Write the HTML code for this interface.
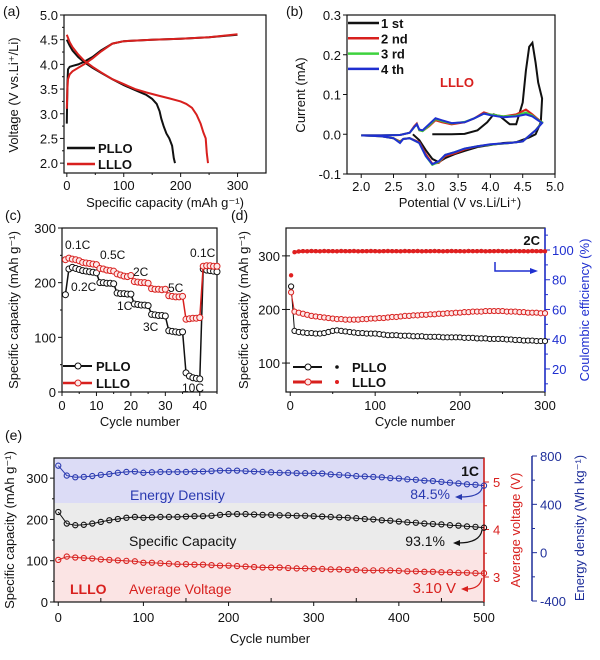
<!DOCTYPE html>
<html><head><meta charset="utf-8">
<style>
html,body{margin:0;padding:0;background:#fff;}
svg{display:block;font-family:"Liberation Sans",Arial,sans-serif;}
</style></head>
<body>
<svg id="fig" width="600" height="660" viewBox="0 0 600 660" xmlns="http://www.w3.org/2000/svg"></svg>
<script>
// ---------- DATA ----------
const aPlloChgX=[0,1,2,5,10,20,30,45,60,80,100,150,200,250,300];
const aPlloChgY=[2.8,3.6,3.9,3.95,3.97,4.0,4.05,4.15,4.28,4.42,4.47,4.5,4.52,4.55,4.6];
const aPlloDisX=[0,5,10,20,30,45,60,80,100,120,140,150,158,163,166,170,175,180,185,188,190];
const aPlloDisY=[4.5,4.38,4.28,4.15,4.05,3.93,3.83,3.7,3.58,3.48,3.38,3.3,3.2,3.05,2.9,2.75,2.6,2.5,2.35,2.1,2.0];
const aLlloChgX=[0,1,2,5,10,20,30,45,60,80,100,150,200,250,300];
const aLlloChgY=[3.1,3.5,3.7,3.8,3.86,3.93,4.0,4.12,4.26,4.42,4.47,4.5,4.52,4.55,4.61];
const aLlloDisX=[0,5,10,20,30,45,60,80,100,120,140,160,180,200,210,220,228,235,240,244,246,248];
const aLlloDisY=[4.6,4.45,4.35,4.2,4.08,3.95,3.84,3.7,3.6,3.5,3.43,3.37,3.31,3.25,3.2,3.12,2.98,2.8,2.62,2.5,2.2,2.0];
const bCyc1V=[3.1,3.4,3.6,3.8,3.95,4.05,4.15,4.3,4.4,4.5,4.55,4.6,4.65,4.7,4.74,4.8,4.78,4.7,4.6,4.5,4.4,4.2,4.0,3.8,3.6,3.45,3.3,3.2,3.1,3.0,2.9,2.8];
const bCyc1I=[0.0,0.0,0.001,0.01,0.03,0.05,0.045,0.025,0.025,0.08,0.16,0.22,0.23,0.18,0.13,0.09,0.03,0.0,-0.008,-0.014,-0.02,-0.022,-0.027,-0.032,-0.042,-0.05,-0.06,-0.07,-0.062,-0.04,-0.015,0.0];
const bCyc2V=[2.0,2.3,2.6,2.75,2.82,2.86,2.9,2.95,3.05,3.15,3.25,3.4,3.6,3.75,3.9,4.0,4.2,4.4,4.55,4.65,4.72,4.8,4.7,4.5,4.3,4.0,3.8,3.6,3.45,3.3,3.2,3.1,3.0,2.9,2.75,2.65,2.6,2.5,2.3,2.0];
const bCyc2I=[-0.003,-0.003,-0.002,0.004,0.02,0.027,0.01,0.008,0.02,0.035,0.03,0.025,0.03,0.04,0.055,0.05,0.045,0.05,0.062,0.05,0.04,0.03,0.01,-0.018,-0.022,-0.026,-0.03,-0.038,-0.048,-0.055,-0.072,-0.074,-0.05,-0.02,-0.01,-0.012,-0.018,-0.01,-0.005,-0.003];
const bCyc3I=[-0.003,-0.003,-0.002,0.004,0.018,0.025,0.01,0.008,0.022,0.038,0.033,0.027,0.031,0.04,0.052,0.05,0.045,0.047,0.055,0.047,0.038,0.03,0.01,-0.018,-0.022,-0.026,-0.03,-0.036,-0.045,-0.052,-0.07,-0.077,-0.055,-0.022,-0.01,-0.012,-0.02,-0.01,-0.005,-0.003];
const bCyc4I=[-0.003,-0.003,-0.002,0.004,0.018,0.025,0.012,0.01,0.025,0.04,0.035,0.028,0.03,0.04,0.052,0.048,0.043,0.045,0.05,0.045,0.037,0.028,0.01,-0.018,-0.022,-0.025,-0.03,-0.036,-0.045,-0.052,-0.068,-0.075,-0.055,-0.022,-0.01,-0.012,-0.022,-0.01,-0.005,-0.003];
const cCycles=[1,2,3,4,5,6,7,8,9,10,11,12,13,14,15,16,17,18,19,20,21,22,23,24,25,26,27,28,29,30,31,32,33,34,35,36,37,38,39,40,41,42,43,44,45];
const cPllo=[178,225,228,226,224,222,221,220,219,218,200,200,199,199,198,181,180,180,179,179,161,160,159,159,158,142,141,140,140,139,112,111,110,109,110,35,29,26,25,24,225,223,222,221,220];
const cLllo=[242,245,243,242,240,237,236,235,234,233,226,225,223,222,221,216,214,212,211,213,202,201,200,200,199,189,188,188,187,188,176,175,174,174,175,133,134,135,135,136,230,231,231,230,230];
const dCycles=[1,5,10,15,20,25,30,35,40,45,50,55,60,65,70,75,80,85,90,95,100,105,110,115,120,125,130,135,140,145,150,155,160,165,170,175,180,185,190,195,200,205,210,215,220,225,230,235,240,245,250,255,260,265,270,275,280,285,290,295,300];
const dPlloCap=[243,160,158,157,156,156,155,155,156,158,160,161,160,159,158,157,156,156,155,155,155,154,153,152,152,152,151,151,151,150,150,150,149,149,149,149,148,148,148,148,148,147,147,147,146,146,146,145,145,145,145,144,144,143,143,142,142,142,141,141,141];
const dLlloCap=[232,196,194,192,190,188,187,186,185,184,183,182,182,181,181,181,181,182,182,183,183,184,184,185,186,186,187,188,188,189,189,190,190,191,191,192,192,193,193,194,194,195,195,196,196,196,197,197,197,197,197,196,196,196,195,195,194,194,194,193,193];
const dPlloCE=[74,98.8,99.3,99.5,99.4,99.6,99.5,99.4,99.6,99.5,99.5,99.4,99.6,99.5,99.5,99.6,99.4,99.5,99.5,99.6,99.5,99.4,99.5,99.6,99.5,99.5,99.4,99.6,99.5,99.5,99.6,99.4,99.5,99.5,99.6,99.5,99.4,99.5,99.6,99.5,99.5,99.4,99.6,99.5,99.5,99.6,99.4,99.5,99.5,99.6,99.5,99.4,99.5,99.6,99.5,99.5,99.4,99.6,99.5,99.5,99.4];
const dLlloCE=[83,98.5,99.0,99.2,99.1,99.3,99.2,99.1,99.3,99.2,99.2,99.1,99.3,99.2,99.2,99.3,99.1,99.2,99.2,99.3,99.2,99.1,99.2,99.3,99.2,99.2,99.1,99.3,99.2,99.2,99.3,99.1,99.2,99.2,99.3,99.2,99.1,99.2,99.3,99.2,99.2,99.1,99.3,99.2,99.2,99.3,99.1,99.2,99.2,99.3,99.2,99.1,99.2,99.3,99.2,99.2,99.1,99.3,99.2,99.2,99.1];
const eCycles=[0,10,20,30,40,50,60,70,80,90,100,110,120,130,140,150,160,170,180,190,200,210,220,230,240,250,260,270,280,290,300,310,320,330,340,350,360,370,380,390,400,410,420,430,440,450,460,470,480,490,500];
const eEnergy=[720,638,624,627,634,644,651,661,668,672,661,665,668,668,668,668,672,672,675,679,679,679,675,672,668,665,661,661,658,658,658,655,648,644,641,634,631,627,624,617,614,607,603,596,593,586,579,573,566,562,555];
const eCapacity=[218,190,186,187,190,194,198,201,204,206,204,205,206,206,206,207,208,208,209,211,213,213,213,212,211,211,210,210,209,209,208,207,206,205,204,203,201,200,198,197,195,193,192,190,189,188,186,185,183,182,180];
const eVoltage=[3.36,3.43,3.41,3.40,3.39,3.37,3.36,3.35,3.34,3.33,3.30,3.30,3.29,3.28,3.27,3.27,3.26,3.26,3.25,3.24,3.24,3.23,3.22,3.21,3.20,3.20,3.20,3.19,3.18,3.18,3.17,3.17,3.16,3.16,3.15,3.15,3.14,3.14,3.14,3.14,3.13,3.12,3.12,3.11,3.11,3.10,3.10,3.09,3.09,3.08,3.08];

// ---------- HELPERS ----------
const NS='http://www.w3.org/2000/svg';
const svg=document.getElementById('fig');
function mk(tag,attrs,name,parent){
  const el=document.createElementNS(NS,tag);
  for(const k in attrs) el.setAttribute(k,attrs[k]);
  
  
  (parent||svg).appendChild(el);
  return el;
}
function txt(x,y,s,name,opt){
  opt=opt||{};
  const t=mk('text',{x:x,y:y,'font-size':opt.size||13,fill:opt.fill||'#111','text-anchor':opt.anchor||'middle','font-weight':opt.bold?'bold':'normal'},name);
  if(opt.rot) t.setAttribute('transform','rotate('+opt.rot+' '+x+' '+y+')');
  t.textContent=s;
  return t;
}
function lin(d0,d1,r0,r1){return v=>r0+(v-d0)/(d1-d0)*(r1-r0);}
function line(x1,y1,x2,y2,name,stroke,w){return mk('line',{x1:x1,y1:y1,x2:x2,y2:y2,stroke:stroke||'#111','stroke-width':w||1},name);}
function pathOf(xs,ys,X,Y){return xs.map((v,i)=>(i?'L':'M')+X(v).toFixed(1)+' '+Y(ys[i]).toFixed(1)).join(' ');}
function box(x0,y0,x1,y1,name){mk('rect',{x:x0,y:y0,width:x1-x0,height:y1-y0,fill:'none',stroke:'#111','stroke-width':1.2},name);}

// ---------- PANEL A ----------
(function(){
  const X=lin(-5,350,64,266), Y=lin(1.8,5.0,173,15);
  box(64,15,266,173,'panel-a-frame');
  [0,100,200,300].forEach(v=>{line(X(v),173,X(v),177,'a-x-tick');txt(X(v),190,String(v),'a-x-tick-label');});
  [50,150,250].forEach(v=>{line(X(v),173,X(v),175,'a-x-minor-tick');});
  [2,2.5,3,3.5,4,4.5,5].forEach(v=>{line(60,Y(v),64,Y(v),'a-y-tick');txt(58,Y(v)+5,v.toFixed(1),'a-y-tick-label',{anchor:'end'});});
  [2.25,2.75,3.25,3.75,4.25,4.75].forEach(v=>{line(62,Y(v),64,Y(v),'a-y-minor-tick');});
  mk('path',{d:pathOf(aPlloChgX,aPlloChgY,X,Y),fill:'none',stroke:'#111','stroke-width':2},'pllo-charge-curve');
  mk('path',{d:pathOf(aPlloDisX,aPlloDisY,X,Y),fill:'none',stroke:'#111','stroke-width':2},'pllo-discharge-curve');
  mk('path',{d:pathOf(aLlloChgX,aLlloChgY,X,Y),fill:'none',stroke:'#d8201e','stroke-width':2},'lllo-charge-curve');
  mk('path',{d:pathOf(aLlloDisX,aLlloDisY,X,Y),fill:'none',stroke:'#d8201e','stroke-width':2},'lllo-discharge-curve');
  line(67,148,95,148,'a-legend-pllo-line','#111',2.5);
  txt(98,153,'PLLO','a-legend-pllo-label',{anchor:'start',bold:true});
  line(67,164,95,164,'a-legend-lllo-line','#d8201e',2.5);
  txt(98,169,'LLLO','a-legend-lllo-label',{anchor:'start',bold:true});
  txt(18,95,'Voltage (V vs.Li\u207A/Li)','a-y-axis-title',{rot:-90,size:13});
  txt(165,207,'Specific capacity (mAh g\u207B\u00B9)','a-x-axis-title',{size:13});
  txt(3,16,'(a)','panel-a-label',{anchor:'start',size:14});
})();

// ---------- PANEL B ----------
(function(){
  const X=lin(1.78,5.0,347,555), Y=lin(-0.1,0.3,174,15);
  box(347,15,555,174,'panel-b-frame');
  [2,2.5,3,3.5,4,4.5,5].forEach(v=>{line(X(v),174,X(v),178,'b-x-tick');txt(X(v),191,v.toFixed(1),'b-x-tick-label');});
  [-0.1,0,0.1,0.2,0.3].forEach(v=>{line(343,Y(v),347,Y(v),'b-y-tick');txt(341,Y(v)+5,v.toFixed(1),'b-y-tick-label',{anchor:'end'});});
  mk('path',{d:pathOf(bCyc1V,bCyc1I,X,Y),fill:'none',stroke:'#111','stroke-width':2},'cv-cycle-1');
  mk('path',{d:pathOf(bCyc2V,bCyc2I,X,Y),fill:'none',stroke:'#d8201e','stroke-width':2},'cv-cycle-2');
  mk('path',{d:pathOf(bCyc2V,bCyc3I,X,Y),fill:'none',stroke:'#3ed23e','stroke-width':2},'cv-cycle-3');
  mk('path',{d:pathOf(bCyc2V,bCyc4I,X,Y),fill:'none',stroke:'#1f2fd0','stroke-width':2},'cv-cycle-4');
  const leg=[['1 st','#111'],['2 nd','#d8201e'],['3 rd','#3ed23e'],['4 th','#1f2fd0']];
  leg.forEach((l,i)=>{const y=23+i*15.3;line(348,y,379,y,'b-legend-line',l[1],2.5);txt(381,y+5,l[0],'b-legend-label',{anchor:'start',bold:true});});
  txt(440,87,'LLLO','b-lllo-annotation',{anchor:'start',bold:true,fill:'#d8201e'});
  txt(305,95,'Current (mA)','b-y-axis-title',{rot:-90,size:13});
  txt(460,207,'Potential (V vs.Li/Li\u207A)','b-x-axis-title',{size:13});
  txt(286,16,'(b)','panel-b-label',{anchor:'start',size:14});
})();

// ---------- PANEL C ----------
(function(){
  const X=lin(0,45,62,217), Y=lin(0,300,392,228);
  box(62,228,217,392,'panel-c-frame');
  [0,10,20,30,40].forEach(v=>{line(X(v),392,X(v),396,'c-x-tick');txt(X(v),410,String(v),'c-x-tick-label');});
  [5,15,25,35,45].forEach(v=>{line(X(v),392,X(v),394,'c-x-minor-tick');});
  [0,100,200,300].forEach(v=>{line(58,Y(v),62,Y(v),'c-y-tick');txt(56,Y(v)+5,String(v),'c-y-tick-label',{anchor:'end'});});
  [50,150,250].forEach(v=>{line(60,Y(v),62,Y(v),'c-y-minor-tick');});
  mk('path',{d:pathOf(cCycles,cPllo,X,Y),fill:'none',stroke:'#111','stroke-width':1.5},'c-pllo-line');
  cCycles.forEach((c,i)=>{mk('circle',{cx:X(c),cy:Y(cPllo[i]),r:3,fill:'#fff',stroke:'#111','stroke-width':1},'c-pllo-point');});
  mk('path',{d:pathOf(cCycles,cLllo,X,Y),fill:'none',stroke:'#d8201e','stroke-width':1.5},'c-lllo-line');
  cCycles.forEach((c,i)=>{mk('circle',{cx:X(c),cy:Y(cLllo[i]),r:3,fill:'#fde8e8',stroke:'#d8201e','stroke-width':1},'c-lllo-point');});
  const labs=[['0.1C',65,249],['0.5C',100,259],['0.2C',71,291],['2C',133,276],['1C',117,310],['5C',168,292],['3C',143,331],['10C',182,392],['0.1C',190,257]];
  labs.forEach(l=>txt(l[1],l[2],l[0],'c-rate-label',{anchor:'start',size:12}));
  line(63,366,92,366,'c-legend-pllo-line','#111',2);
  mk('circle',{cx:78,cy:366,r:3,fill:'#fff',stroke:'#111'},'c-legend-pllo-marker');
  txt(96,371,'PLLO','c-legend-pllo-label',{anchor:'start',bold:true});
  line(63,383,92,383,'c-legend-lllo-line','#d8201e',2.5);
  mk('circle',{cx:78,cy:383,r:3,fill:'#fde8e8',stroke:'#d8201e'},'c-legend-lllo-marker');
  txt(96,388,'LLLO','c-legend-lllo-label',{anchor:'start',bold:true});
  txt(18,310,'Specific capacity (mAh g\u207B\u00B9)','c-y-axis-title',{rot:-90,size:13});
  txt(140,426,'Cycle number','c-x-axis-title',{size:13});
  txt(5,220,'(c)','panel-c-label',{anchor:'start',size:14});
})();

// ---------- PANEL D ----------
(function(){
  const X=lin(-5,300,286,545), Y=lin(46,352,392,228), YC=lin(4.5,114.8,392,228);
  box(286,228,545,392,'panel-d-frame');
  line(545,228,545,392,'d-right-axis','#1f2fd0',1.5);
  [0,100,200,300].forEach(v=>{line(X(v),392,X(v),396,'d-x-tick');txt(X(v),410,String(v),'d-x-tick-label');});
  [50,150,250].forEach(v=>{line(X(v),392,X(v),394,'d-x-minor-tick');});
  [100,200,300].forEach(v=>{line(282,Y(v),290,Y(v),'d-y-tick');txt(280,Y(v)+5,String(v),'d-y-tick-label',{anchor:'end'});});
  [20,40,60,80,100].forEach(v=>{line(545,YC(v),550,YC(v),'d-ce-tick','#1f2fd0');txt(552,YC(v)+5,String(v),'d-ce-tick-label',{anchor:'start',fill:'#1f2fd0'});});
  [10,30,50,70,90,110].forEach(v=>{line(545,YC(v),548,YC(v),'d-ce-minor-tick','#1f2fd0');});
  dCycles.forEach((c,i)=>{mk('circle',{cx:X(c),cy:YC(dPlloCE[i]),r:1.7,fill:'#111'},'d-pllo-ce-point');});
  dCycles.forEach((c,i)=>{mk('circle',{cx:X(c),cy:YC(dLlloCE[i]),r:2.2,fill:'#e02020'},'d-lllo-ce-point');});
  mk('path',{d:pathOf(dCycles.slice(1),dLlloCE.slice(1),X,YC),fill:'none',stroke:'#e02020','stroke-width':3},'d-lllo-ce-line');
  mk('path',{d:pathOf(dCycles,dPlloCap,X,Y),fill:'none',stroke:'#111','stroke-width':1},'d-pllo-cap-line');
  dCycles.forEach((c,i)=>{mk('circle',{cx:X(c),cy:Y(dPlloCap[i]),r:2.6,fill:'#fff',stroke:'#111','stroke-width':1},'d-pllo-cap-point');});
  mk('path',{d:pathOf(dCycles,dLlloCap,X,Y),fill:'none',stroke:'#d8201e','stroke-width':1},'d-lllo-cap-line');
  dCycles.forEach((c,i)=>{mk('circle',{cx:X(c),cy:Y(dLlloCap[i]),r:2.6,fill:'#fde8e8',stroke:'#d8201e','stroke-width':1},'d-lllo-cap-point');});
  txt(540,245,'2C','d-rate-label',{anchor:'end',bold:true});
  mk('path',{d:'M495 262 L495 271 L533 271',fill:'none',stroke:'#1f2fd0','stroke-width':1.5},'d-axis-arrow');
  mk('path',{d:'M538 271 L530 268 L530 274 Z',fill:'#1f2fd0'},'d-axis-arrowhead');
  line(293,367,322,367,'d-legend-pllo-line','#111',2);
  mk('circle',{cx:308,cy:367,r:3,fill:'#fff',stroke:'#111'},'d-legend-pllo-marker');
  mk('circle',{cx:337,cy:367,r:1.8,fill:'#111'},'d-legend-pllo-ce-marker');
  txt(352,372,'PLLO','d-legend-pllo-label',{anchor:'start',bold:true});
  line(293,382,322,382,'d-legend-lllo-line','#d8201e',3);
  mk('circle',{cx:308,cy:382,r:3,fill:'#fde8e8',stroke:'#d8201e'},'d-legend-lllo-marker');
  mk('circle',{cx:337,cy:382,r:2,fill:'#e02020'},'d-legend-lllo-ce-marker');
  txt(352,387,'LLLO','d-legend-lllo-label',{anchor:'start',bold:true});
  txt(248,310,'Specific capacity (mAh g\u207B\u00B9)','d-y-axis-title',{rot:-90,size:13});
  txt(589,310,'Coulombic efficiency (%)','d-ce-axis-title',{rot:-90,size:13,fill:'#1f2fd0'});
  txt(415,426,'Cycle number','d-x-axis-title',{size:13});
  txt(231,220,'(d)','panel-d-label',{anchor:'start',size:14});
})();

// ---------- PANEL E ----------
(function(){
  const X=lin(-5,500,54,484), Y=lin(0,350,602,457.5), YV=lin(3,5,577,482), YE=lin(-400,800,601,456);
  mk('rect',{x:54,y:458,width:430,height:45,fill:'#dcdcf6'},'e-energy-band');
  mk('rect',{x:54,y:503,width:430,height:47,fill:'#ebebeb'},'e-capacity-band');
  mk('rect',{x:54,y:550,width:430,height:52,fill:'#fbe4e4'},'e-voltage-band');
  mk('rect',{x:54,y:458,width:430,height:144,fill:'none',stroke:'#111','stroke-width':1.2},'panel-e-frame');
  line(484,458,484,602,'e-voltage-axis','#d8201e',1.5);
  line(532,456,532,601,'e-energy-axis','#1f2f9a',1.5);
  [0,100,200,300,400,500].forEach(v=>{line(X(v),602,X(v),606,'e-x-tick');txt(X(v),622,String(v),'e-x-tick-label');});
  [50,150,250,350,450].forEach(v=>{line(X(v),598,X(v),602,'e-x-minor-tick');});
  [0,100,200,300].forEach(v=>{line(50,Y(v),54,Y(v),'e-y-tick');txt(48,Y(v)+5,String(v),'e-y-tick-label',{anchor:'end'});});
  [50,150,250].forEach(v=>{line(52,Y(v),54,Y(v),'e-y-minor-tick');});
  [3,4,5].forEach(v=>{line(484,YV(v),489,YV(v),'e-voltage-tick','#d8201e');txt(493,YV(v)+5,String(v),'e-voltage-tick-label',{anchor:'start',fill:'#d8201e'});});
  [3.5,4.5].forEach(v=>{line(484,YV(v),487,YV(v),'e-voltage-minor-tick','#d8201e');});
  [-400,0,400,800].forEach(v=>{line(532,YE(v),537,YE(v),'e-energy-tick','#1f2f9a');txt(540,YE(v)+5,String(v),'e-energy-tick-label',{anchor:'start',fill:'#1f2f9a'});});
  [-200,200,600].forEach(v=>{line(532,YE(v),535,YE(v),'e-energy-minor-tick','#1f2f9a');});
  mk('path',{d:pathOf(eCycles,eEnergy,X,YE),fill:'none',stroke:'#2a3ab0','stroke-width':1},'e-energy-line');
  eCycles.forEach((c,i)=>{mk('circle',{cx:X(c),cy:YE(eEnergy[i]),r:2.6,fill:'none',stroke:'#2a3ab0','stroke-width':1.1},'e-energy-point');});
  mk('path',{d:pathOf(eCycles,eCapacity,X,Y),fill:'none',stroke:'#111','stroke-width':1},'e-capacity-line');
  eCycles.forEach((c,i)=>{mk('circle',{cx:X(c),cy:Y(eCapacity[i]),r:2.6,fill:'none',stroke:'#111','stroke-width':1.1},'e-capacity-point');});
  mk('path',{d:pathOf(eCycles,eVoltage,X,YV),fill:'none',stroke:'#d8201e','stroke-width':1},'e-voltage-line');
  eCycles.forEach((c,i)=>{mk('circle',{cx:X(c),cy:YV(eVoltage[i]),r:2.6,fill:'none',stroke:'#d8201e','stroke-width':1.1},'e-voltage-point');});
  txt(130,500,'Energy Density','e-energy-label',{anchor:'start',size:14,fill:'#2a3ab0'});
  txt(129,546,'Specific Capacity','e-capacity-label',{anchor:'start',size:14});
  txt(70,594,'LLLO','e-lllo-label',{anchor:'start',size:14,bold:true,fill:'#d8201e'});
  txt(129,594,'Average Voltage','e-voltage-label',{anchor:'start',size:14,fill:'#d8201e'});
  txt(479,476,'1C','e-rate-label',{anchor:'end',size:14,bold:true});
  txt(450,499,'84.5%','e-energy-retention',{anchor:'end',size:14,fill:'#2a3ab0'});
  txt(445,546,'93.1%','e-capacity-retention',{anchor:'end',size:14});
  txt(456,593,'3.10 V','e-voltage-retention',{anchor:'end',size:15,fill:'#d8201e'});
  mk('path',{d:'M482 488 Q480 497 460 497',fill:'none',stroke:'#2a3ab0','stroke-width':1.2},'e-energy-arrow');
  mk('path',{d:'M455 497 L462 494 L462 500 Z',fill:'#2a3ab0'},'e-energy-arrowhead');
  mk('path',{d:'M482 530 Q480 543 458 543',fill:'none',stroke:'#111','stroke-width':1.2},'e-capacity-arrow');
  mk('path',{d:'M453 543 L460 540 L460 546 Z',fill:'#111'},'e-capacity-arrowhead');
  mk('path',{d:'M482 578 Q480 589 466 589',fill:'none',stroke:'#d8201e','stroke-width':1.2},'e-voltage-arrow');
  mk('path',{d:'M461 589 L468 586 L468 592 Z',fill:'#d8201e'},'e-voltage-arrowhead');
  txt(14,530,'Specific capacity (mAh g\u207B\u00B9)','e-y-axis-title',{rot:-90,size:13});
  txt(520,530,'Average voltage (V)','e-voltage-axis-title',{rot:-90,size:13,fill:'#d8201e'});
  txt(584,528,'Energy density (Wh kg\u207B\u00B9)','e-energy-axis-title',{rot:-90,size:13,fill:'#1f2f9a'});
  txt(270,643,'Cycle number','e-x-axis-title',{size:13});
  txt(5,440,'(e)','panel-e-label',{anchor:'start',size:14});
})();
</script>
</body></html>
